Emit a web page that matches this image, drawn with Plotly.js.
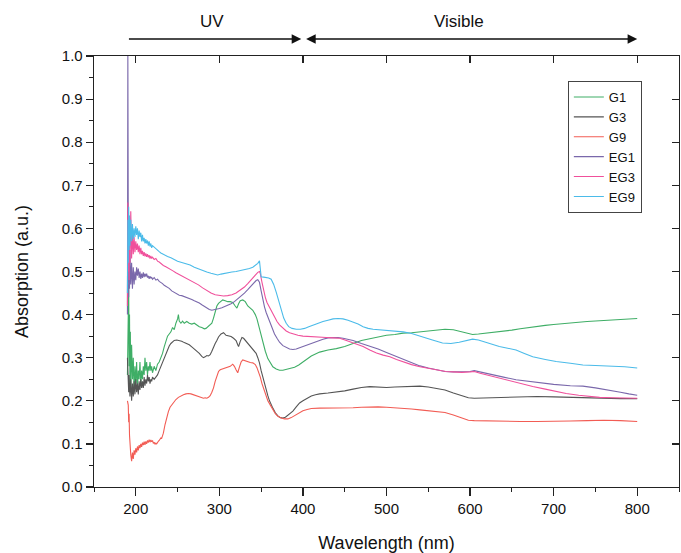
<!DOCTYPE html>
<html>
<head>
<meta charset="utf-8">
<script src="https://cdn.plot.ly/plotly-3.0.1.min.js"></script>
<style>html,body{margin:0;padding:0;background:#fff;}#chart{width:681px;height:553px;}</style>
</head>
<body>
<div id="chart"></div>
<script>
// ---- Data (wavelength nm, absorption a.u.) ----
const seriesNames = ["G1", "G3", "G9", "EG1", "EG3", "EG9"];

const g1_wl = [190,190.5,191,191.5,192,192.5,193,193.5,194,195,196,197,198,199,200,201,202,203,204,205,206,207,208,209,210,211,212,213,214,215,216,217,218,219,220,222,224,226,228,230,232,234,236,238,240,242,244,246,248,250,251,252,254,256,258,261,264,267,270,273,276,279,282,284,286,289,291,293,295,297,299,301,304,307,310,313,316,319,321,323,325,328,331,334,337,340,343,345,347,349,352,355,358,361,364,368,372,376,380,385,390,395,400,405,410,420,430,440,450,460,470,480,490,500,510,520,530,540,550,560,570,580,590,597,603,610,620,630,640,650,660,670,680,690,700,710,720,730,740,750,760,770,780,790,800];
const g1_abs = [0.26,0.43,0.30,0.47,0.28,0.40,0.24,0.36,0.22,0.33,0.25,0.30,0.22,0.28,0.24,0.29,0.23,0.27,0.25,0.29,0.24,0.27,0.25,0.28,0.26,0.30,0.27,0.29,0.26,0.28,0.27,0.29,0.27,0.28,0.265,0.28,0.27,0.285,0.29,0.30,0.31,0.325,0.34,0.35,0.355,0.36,0.37,0.365,0.38,0.39,0.40,0.385,0.38,0.385,0.38,0.384,0.38,0.378,0.38,0.375,0.372,0.37,0.367,0.368,0.372,0.376,0.38,0.392,0.405,0.42,0.426,0.43,0.434,0.432,0.43,0.43,0.428,0.42,0.415,0.425,0.432,0.434,0.43,0.42,0.415,0.41,0.40,0.39,0.375,0.36,0.335,0.315,0.298,0.287,0.279,0.274,0.271,0.271,0.273,0.275,0.278,0.283,0.29,0.298,0.304,0.313,0.318,0.321,0.326,0.333,0.34,0.344,0.348,0.352,0.354,0.357,0.358,0.36,0.362,0.364,0.366,0.365,0.36,0.356,0.354,0.355,0.357,0.359,0.361,0.364,0.367,0.37,0.372,0.375,0.377,0.379,0.381,0.382,0.384,0.385,0.386,0.388,0.389,0.39,0.391];

const g3_wl = [190,190.5,191,191.5,192,193,194,195,196,197,198,199,200,201,202,203,204,205,206,207,208,209,210,211,212,213,214,215,216,217,218,219,220,222,224,226,228,230,232,234,236,238,240,242,244,246,249,252,255,258,261,264,267,270,273,276,279,281,283,285,287,289,291,293,295,297,299,302,305,308,311,314,317,320,322,323,325,327,329,332,335,338,341,344,346,348,350,352,354,356,358,360,362,364,367,370,373,376,379,382,385,388,392,396,400,405,410,415,420,430,440,450,460,470,480,490,500,510,520,530,540,550,560,570,580,590,598,605,620,640,660,680,700,720,740,760,780,800];
const g3_abs = [0.30,0.24,0.28,0.22,0.26,0.21,0.25,0.20,0.24,0.21,0.245,0.215,0.25,0.22,0.24,0.215,0.245,0.225,0.25,0.23,0.245,0.23,0.255,0.235,0.25,0.24,0.26,0.245,0.255,0.24,0.25,0.245,0.255,0.25,0.255,0.26,0.27,0.28,0.29,0.30,0.31,0.32,0.327,0.333,0.337,0.34,0.341,0.34,0.338,0.335,0.333,0.33,0.325,0.32,0.316,0.31,0.303,0.30,0.302,0.305,0.304,0.307,0.315,0.325,0.333,0.34,0.348,0.355,0.358,0.352,0.35,0.349,0.345,0.34,0.33,0.326,0.338,0.347,0.345,0.338,0.332,0.325,0.318,0.31,0.30,0.288,0.27,0.255,0.238,0.225,0.212,0.20,0.19,0.183,0.172,0.165,0.161,0.16,0.162,0.166,0.171,0.176,0.186,0.195,0.20,0.205,0.211,0.214,0.216,0.218,0.22,0.223,0.227,0.231,0.233,0.232,0.231,0.232,0.233,0.234,0.234,0.232,0.228,0.225,0.218,0.212,0.207,0.206,0.207,0.208,0.209,0.21,0.209,0.208,0.207,0.205,0.205,0.205];

const g9_wl = [190,191,191.5,192,192.5,193,194,195,196,197,198,199,200,201,202,203,204,205,206,207,208,209,210,211,212,213,214,215,216,217,218,219,220,221,222,223,224,225,226,227,228,229,230,231,233,235,237,239,241,243,245,248,251,254,257,260,263,266,269,272,275,278,281,283,285,287,289,291,293,295,297,299,301,304,307,310,313,316,318,320,322,324,326,328,331,334,337,340,343,345,347,349,351,353,355,358,361,364,367,370,374,378,382,386,390,395,400,405,410,420,430,440,450,460,470,480,490,500,510,520,530,540,550,560,570,580,590,598,605,620,640,660,680,700,720,740,760,780,800];
const g9_abs = [0.20,0.19,0.15,0.17,0.12,0.10,0.075,0.06,0.08,0.065,0.085,0.075,0.09,0.08,0.094,0.085,0.097,0.09,0.10,0.093,0.103,0.097,0.105,0.098,0.106,0.10,0.108,0.103,0.11,0.104,0.109,0.105,0.108,0.101,0.104,0.099,0.102,0.10,0.104,0.106,0.108,0.112,0.114,0.113,0.125,0.145,0.163,0.175,0.185,0.19,0.196,0.203,0.208,0.212,0.214,0.216,0.217,0.216,0.214,0.212,0.21,0.208,0.206,0.207,0.206,0.208,0.212,0.22,0.23,0.245,0.258,0.268,0.272,0.274,0.276,0.277,0.28,0.285,0.28,0.272,0.265,0.278,0.29,0.295,0.293,0.29,0.289,0.288,0.284,0.277,0.268,0.255,0.24,0.228,0.215,0.20,0.19,0.18,0.17,0.164,0.16,0.158,0.158,0.161,0.166,0.172,0.177,0.18,0.182,0.183,0.183,0.183,0.183,0.184,0.185,0.186,0.186,0.185,0.184,0.183,0.181,0.179,0.177,0.175,0.173,0.167,0.16,0.155,0.154,0.153,0.152,0.152,0.152,0.152,0.153,0.154,0.155,0.154,0.152];

const eg1_wl = [190,190.5,191,191.5,192,192.5,193,194,195,196,197,198,199,200,201,202,203,204,205,206,207,208,209,210,211,212,213,214,215,216,217,218,219,220,222,224,226,228,230,232,234,236,238,240,243,246,249,252,255,258,261,264,267,270,273,276,279,282,285,288,291,294,297,300,303,306,310,314,318,322,326,330,334,338,341,344,346,348,350,352,354,356,358,360,363,366,369,372,376,380,384,388,392,396,400,406,412,418,424,430,436,442,448,454,460,470,480,490,500,510,520,530,540,550,560,570,580,590,600,605,612,620,630,640,655,670,685,700,720,735,750,767,780,790,800];
const eg1_abs = [0.40,1.00,0.62,0.44,0.58,0.46,0.55,0.47,0.52,0.46,0.51,0.47,0.50,0.48,0.51,0.49,0.507,0.485,0.50,0.483,0.495,0.485,0.498,0.487,0.495,0.488,0.495,0.486,0.49,0.483,0.489,0.484,0.487,0.482,0.486,0.48,0.482,0.477,0.475,0.472,0.468,0.466,0.463,0.461,0.455,0.451,0.448,0.445,0.444,0.442,0.44,0.438,0.435,0.432,0.43,0.427,0.423,0.419,0.415,0.412,0.41,0.411,0.413,0.414,0.416,0.418,0.421,0.425,0.43,0.436,0.443,0.45,0.458,0.467,0.474,0.479,0.481,0.475,0.455,0.435,0.418,0.405,0.395,0.385,0.368,0.355,0.345,0.336,0.328,0.323,0.32,0.319,0.32,0.323,0.326,0.33,0.334,0.339,0.343,0.346,0.347,0.347,0.345,0.343,0.34,0.333,0.327,0.32,0.312,0.304,0.296,0.288,0.281,0.276,0.272,0.268,0.267,0.267,0.268,0.27,0.267,0.262,0.258,0.255,0.249,0.245,0.241,0.238,0.235,0.234,0.23,0.225,0.22,0.216,0.213];

const eg3_wl = [190,190.5,191,191.5,192,192.5,193,194,195,196,197,198,199,200,201,202,203,204,205,206,207,208,209,210,211,212,213,214,215,216,217,218,219,220,222,224,226,228,230,233,236,240,244,248,252,256,260,265,270,275,280,285,290,295,300,305,310,315,320,325,330,334,338,341,344,346,348,349,351,353,355,357,360,363,366,369,372,376,380,384,388,394,400,406,412,420,428,436,444,452,460,466,472,480,488,496,504,512,520,530,540,550,560,571,580,590,600,605,612,620,635,650,665,675,690,705,715,730,745,755,770,785,800];
const eg3_abs = [0.42,0.66,0.50,0.63,0.48,0.61,0.52,0.64,0.53,0.59,0.54,0.58,0.545,0.57,0.55,0.565,0.545,0.56,0.54,0.555,0.54,0.548,0.536,0.545,0.535,0.542,0.534,0.54,0.533,0.538,0.53,0.536,0.53,0.533,0.528,0.53,0.524,0.522,0.518,0.514,0.511,0.507,0.502,0.497,0.493,0.489,0.485,0.48,0.475,0.469,0.462,0.455,0.45,0.446,0.444,0.443,0.444,0.446,0.45,0.456,0.464,0.472,0.481,0.488,0.494,0.498,0.50,0.495,0.475,0.455,0.44,0.428,0.416,0.404,0.393,0.384,0.376,0.368,0.362,0.358,0.355,0.352,0.35,0.349,0.349,0.348,0.347,0.346,0.345,0.34,0.334,0.33,0.326,0.318,0.311,0.306,0.302,0.296,0.29,0.284,0.279,0.275,0.271,0.268,0.267,0.266,0.267,0.268,0.264,0.26,0.252,0.244,0.237,0.233,0.227,0.221,0.217,0.213,0.21,0.208,0.207,0.206,0.206];

const eg9_wl = [190,190.5,191,191.5,192,192.5,193,194,195,196,197,198,199,200,201,202,203,204,205,206,207,208,209,210,211,212,213,214,215,216,217,218,219,220,222,224,226,228,230,234,238,242,246,250,255,260,265,270,275,280,285,290,295,298,302,306,310,315,320,325,330,336,340,343,346,348,349,350,353,356,359,362,365,368,371,374,377,380,383,387,392,397,402,407,412,418,424,430,436,442,448,454,460,466,472,478,484,492,500,510,520,530,543,555,567,577,587,595,603,610,620,635,645,655,665,675,690,703,720,735,750,767,785,800];
const eg9_abs = [0.45,0.62,0.52,0.65,0.55,0.63,0.56,0.62,0.57,0.61,0.575,0.60,0.58,0.605,0.585,0.60,0.575,0.595,0.58,0.59,0.57,0.585,0.57,0.578,0.565,0.575,0.565,0.572,0.56,0.57,0.558,0.565,0.555,0.56,0.556,0.552,0.549,0.546,0.543,0.538,0.535,0.532,0.528,0.524,0.521,0.518,0.515,0.51,0.506,0.503,0.499,0.496,0.493,0.492,0.494,0.496,0.497,0.499,0.50,0.502,0.504,0.507,0.51,0.514,0.519,0.525,0.50,0.488,0.487,0.486,0.485,0.482,0.47,0.452,0.43,0.408,0.392,0.38,0.372,0.368,0.366,0.366,0.368,0.372,0.376,0.38,0.384,0.387,0.39,0.391,0.39,0.387,0.383,0.378,0.372,0.368,0.366,0.365,0.364,0.362,0.36,0.356,0.349,0.341,0.334,0.333,0.336,0.34,0.343,0.341,0.335,0.326,0.322,0.318,0.31,0.302,0.296,0.291,0.287,0.283,0.282,0.281,0.279,0.276];

const xTickLabels = ["200","300","400","500","600","700","800"];
const regionLabels = ["UV", "Visible"];

// ---- Styles ----
const colors = ["#3fae66", "#555555", "#f25c54", "#7a68ab", "#f0509b", "#4bbbe9"];
const xs = [g1_wl, g3_wl, g9_wl, eg1_wl, eg3_wl, eg9_wl];
const ys = [g1_abs, g3_abs, g9_abs, eg1_abs, eg3_abs, eg9_abs];

const traces = seriesNames.map((n, i) => ({
  type: "scatter", mode: "lines", name: n,
  x: xs[i], y: ys[i],
  line: {color: colors[i], width: 1.1}
}));

const axisColor = "#222";
const font = {family: "Liberation Sans, Arial, sans-serif", color: "#111"};

const layout = {
  width: 681, height: 553,
  margin: {l: 94, r: 2, t: 56, b: 66},
  paper_bgcolor: "#fff", plot_bgcolor: "#fff",
  font: font,
  showlegend: true,
  legend: {
    x: 0.81, y: 0.942, xanchor: "left", yanchor: "top",
    bordercolor: "#444", borderwidth: 1, bgcolor: "#fff",
    font: {size: 13, family: font.family, color: "#111"},
    tracegroupgap: 0
  },
  xaxis: {
    range: [150, 850], tickvals: [200,300,400,500,600,700,800], ticktext: xTickLabels,
    ticks: "outside", ticklen: 8, tickwidth: 1.2, tickcolor: axisColor,
    minor: {tickvals: [150,250,350,450,550,650,750,850], ticks: "outside", ticklen: 4, tickcolor: axisColor, tickwidth: 1},
    showline: true, linecolor: axisColor, linewidth: 1.3,
    showgrid: false, zeroline: false,
    tickfont: {size: 15, family: font.family, color: "#111"},
    title: {text: "Wavelength (nm)", font: {size: 18, family: font.family, color: "#111"}, standoff: 20}
  },
  yaxis: {
    range: [0, 1], dtick: 0.1, tick0: 0, tickformat: ".1f",
    ticks: "outside", ticklen: 7, tickwidth: 1.2, tickcolor: axisColor,
    minor: {dtick: 0.05, ticks: "outside", ticklen: 4, tickcolor: axisColor, tickwidth: 1},
    showline: true, linecolor: axisColor, linewidth: 1.3,
    showgrid: false, zeroline: false,
    tickfont: {size: 15, family: font.family, color: "#111"},
    title: {text: "Absorption (a.u.)", font: {size: 18, family: font.family, color: "#111"}, standoff: 28}
  },
  xaxis2: {
    overlaying: "x", side: "top", range: [150, 850],
    tickvals: [200,300,400,500,600,700,800], ticks: "inside", ticklen: 7, tickcolor: axisColor, tickwidth: 1.2,
    showticklabels: false, showline: true, linecolor: axisColor, linewidth: 1.3,
    showgrid: false, zeroline: false
  },
  yaxis2: {
    overlaying: "y", side: "right", range: [0, 1], dtick: 0.1, tick0: 0,
    ticks: "inside", ticklen: 7, tickcolor: axisColor, tickwidth: 1.2,
    showticklabels: false, showline: true, linecolor: axisColor, linewidth: 1.3,
    showgrid: false, zeroline: false
  },
  annotations: [
    {x: 291, y: 1.079, xref: "x", yref: "paper", yanchor: "middle", xanchor: "center",
     text: regionLabels[0], showarrow: false,
     font: {size: 17, family: font.family, color: "#111"}},
    {x: 587, y: 1.079, xref: "x", yref: "paper", yanchor: "middle", xanchor: "center",
     text: regionLabels[1], showarrow: false,
     font: {size: 17, family: font.family, color: "#111"}},
    {x: 398, y: 1.0394, xref: "x", yref: "paper", ax: 190, axref: "x", ay: 0, ayref: "pixel",
     text: "", showarrow: true, arrowhead: 2, arrowsize: 1.2, arrowwidth: 1.6, arrowcolor: "#111", standoff: 0},
    {x: 800, y: 1.0394, xref: "x", yref: "paper", ax: 402, axref: "x", ay: 0, ayref: "pixel",
     text: "", showarrow: true, arrowside: "end+start", arrowhead: 2, startarrowhead: 2,
     arrowsize: 1.2, startarrowsize: 1.2, arrowwidth: 1.6, arrowcolor: "#111", standoff: 0, startstandoff: 0}
  ]
};

// invisible trace so the mirror axes are drawn
traces.push({type: "scatter", x: [150], y: [0], xaxis: "x2", yaxis: "y2", mode: "markers",
  marker: {opacity: 0}, showlegend: false, hoverinfo: "skip"});

Plotly.newPlot("chart", traces, layout, {displayModeBar: false, staticPlot: true});
</script>
</body>
</html>
